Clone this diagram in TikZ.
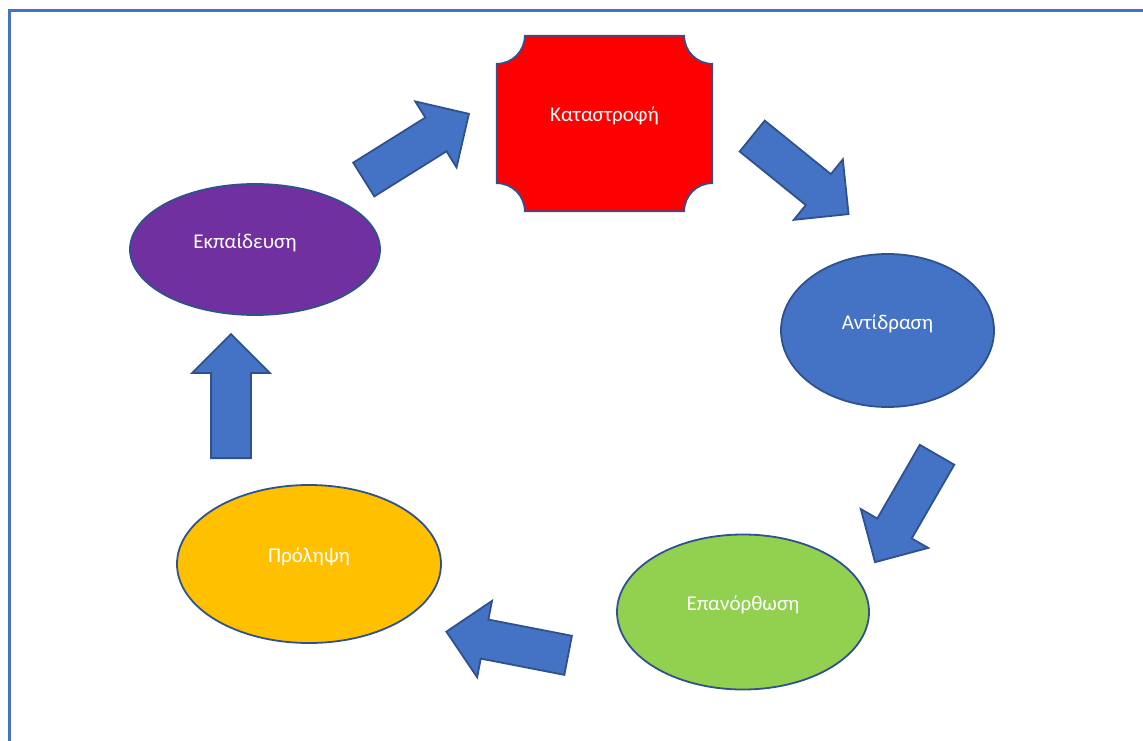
\documentclass[tikz,border=0pt]{standalone}
\usepackage{fontspec}
\setmainfont{Carlito}
\usepackage{tikz}
\usetikzlibrary{shapes.geometric, shapes.arrows, backgrounds}
\definecolor{edge}{HTML}{2F528F}
\definecolor{flowblue}{HTML}{4472C4}
\definecolor{disaster}{HTML}{FF0000}
\definecolor{training}{HTML}{7030A0}
\definecolor{recovery}{HTML}{92D050}
\definecolor{prevention}{HTML}{FFC000}

\begin{document}
\begin{tikzpicture}[x=1pt, y=-1pt, every node/.style={font=\fontsize{21}{25}\selectfont, text=white}]
    \tikzstyle{phase} = [ellipse, draw=edge, line width=1.8pt, inner sep=0pt, text height=13pt, text depth=16pt]
    \tikzstyle{flow} = [single arrow, draw=edge, fill=flowblue, line width=1.8pt, inner xsep=0pt, inner ysep=19pt, minimum width=76pt, minimum height=124pt, single arrow head extend=19pt, anchor=tail]
    \tikzstyle{plaque} = [draw=edge, fill=disaster, line width=1.8pt]
    \useasboundingbox (0,0) rectangle (1143,741);

    % Frame
    \draw [flowblue, line width=3pt] (9.5,741) -- (9.5,11) -- (1143,11);

    % Cycle phases
    \node (disaster) [inner sep=0pt, minimum width=215pt, minimum height=175pt, text height=13pt, text depth=16pt] at (604.5,123.5) {Καταστροφή};
    \node (response) [phase, fill=flowblue, minimum width=213pt, minimum height=153pt] at (887.5,330.5) {Αντίδραση};
    \node (recovery) [phase, fill=recovery, minimum width=252pt, minimum height=155pt] at (743,612) {Επανόρθωση};
    \node (prevention) [phase, fill=prevention, minimum width=264pt, minimum height=158pt] at (309,564) {Πρόληψη};
    \node (training) [phase, fill=training, minimum width=250pt, minimum height=131pt] at (255,249.5) {Εκπαίδευση\hspace*{20pt}};

    % Plaque behind the disaster text
    \begin{pgfonlayer}{background}
    \draw [plaque] ([xshift=28pt]disaster.north west) -- ([xshift=-28pt]disaster.north east)
        arc[start angle=180, end angle=270, radius=28pt] -- ([yshift=28pt]disaster.south east)
        arc[start angle=90, end angle=180, radius=28pt] -- ([xshift=28pt]disaster.south west)
        arc[start angle=0, end angle=90, radius=28pt] -- ([yshift=-28pt]disaster.north west)
        arc[start angle=270, end angle=360, radius=28pt] -- cycle;
    \end{pgfonlayer}

    % Arrows (placed by their tails)
    \node (a1) [flow, rotate=-39] at (751.5,135.5) {};
    \node (a2) [flow, rotate=240] at (937.5,454) {};
    \node (a3) [flow, rotate=169] at (569,655.5) {};
    \node (a4) [flow, rotate=90] at (231,459) {};
    \node (a5) [flow, rotate=32] at (363,180) {};
\end{tikzpicture}
\end{document}
